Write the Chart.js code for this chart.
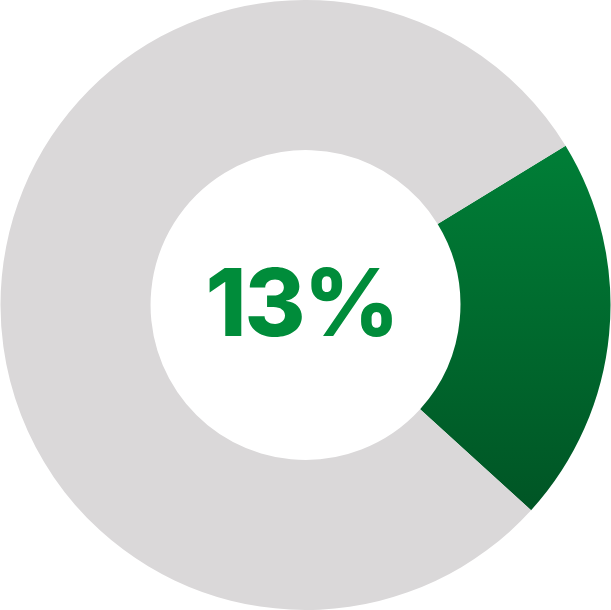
<!DOCTYPE html>
<html>
<head>
<meta charset="utf-8">
<script src="https://cdn.jsdelivr.net/npm/chart.js@4"></script>
<style>
  html, body { margin: 0; padding: 0; background: #ffffff; }
  #wrap { position: relative; width: 611px; height: 610px; }
  #label { position: absolute; left: 0; top: 0; width: 611px; height: 610px; display: flex; align-items: center; justify-content: center; pointer-events: none; }
  #label span { font-family: Inter, "Liberation Sans", sans-serif; font-weight: 800; font-size: 93px; color: #008C3A; letter-spacing: -2px; transform: translate(-4px, -3px); }
</style>
</head>
<body>
<div id="wrap">
  <canvas id="c" width="611" height="610"></canvas>
  <div id="label"><span id="txt"></span></div>
</div>
<script>
const categories = ["Share", "Rest"];
const values = [20.5, 79.5];
const labelText = "13%";

document.getElementById('txt').textContent = labelText;

function segmentColor(ctx) {
  if (ctx.dataIndex !== 0) return '#DAD8D9';
  const chart = ctx.chart;
  const area = chart.chartArea;
  if (!area) return '#006B2F';
  const g = chart.ctx.createLinearGradient(0, area.top + 140, 0, area.top + 510);
  g.addColorStop(0, '#007F37');
  g.addColorStop(1, '#005525');
  return g;
}

new Chart(document.getElementById('c'), {
  type: 'doughnut',
  data: {
    labels: categories,
    datasets: [{
      data: values,
      backgroundColor: segmentColor,
      borderWidth: 0,
      hoverOffset: 0
    }]
  },
  options: {
    responsive: false,
    animation: false,
    rotation: 58.5,
    cutout: '50.8%',
    layout: { padding: 0 },
    plugins: { legend: { display: false }, tooltip: { enabled: false } }
  }
});
</script>
</body>
</html>
